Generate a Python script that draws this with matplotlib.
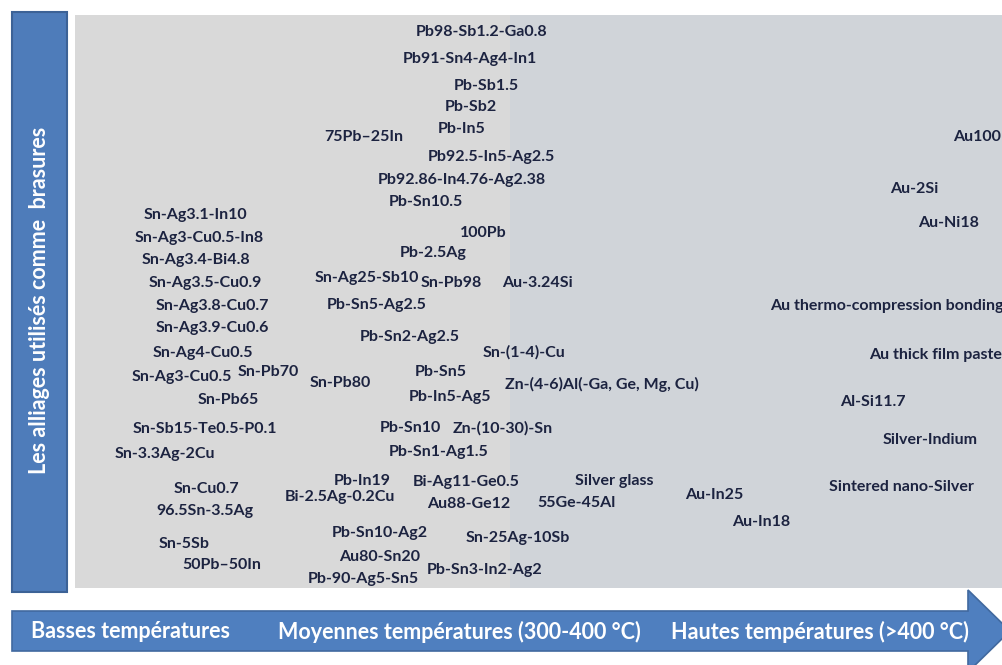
import matplotlib.pyplot as plt
from matplotlib.patches import Rectangle, Polygon

# alliages de brasure, placés selon leur domaine de température
labels = [
    "Pb98-Sb1.2-Ga0.8", "Pb91-Sn4-Ag4-In1", "Pb-Sb1.5", "Pb-Sb2", "Pb-In5",
    "75Pb\u201325In", "Pb92.5-In5-Ag2.5", "Pb92.86-In4.76-Ag2.38", "Pb-Sn10.5",
    "Sn-Ag3.1-In10", "Sn-Ag3-Cu0.5-In8", "Sn-Ag3.4-Bi4.8", "100Pb", "Pb-2.5Ag",
    "Sn-Ag3.5-Cu0.9", "Sn-Ag25-Sb10", "Sn-Pb98", "Au-3.24Si", "Pb-Sn5-Ag2.5",
    "Sn-Ag3.8-Cu0.7", "Sn-Ag3.9-Cu0.6", "Pb-Sn2-Ag2.5", "Sn-(1-4)-Cu",
    "Sn-Ag4-Cu0.5", "Sn-Ag3-Cu0.5", "Sn-Pb70", "Sn-Pb80", "Pb-Sn5",
    "Zn-(4-6)Al(-Ga, Ge, Mg, Cu)", "Sn-Pb65", "Pb-In5-Ag5", "Sn-Sb15-Te0.5-P0.1",
    "Pb-Sn10", "Zn-(10-30)-Sn", "Sn-3.3Ag-2Cu", "Pb-Sn1-Ag1.5", "Pb-In19",
    "Bi-Ag11-Ge0.5", "Bi-2.5Ag-0.2Cu", "Sn-Cu0.7", "96.5Sn-3.5Ag", "Au88-Ge12",
    "Pb-Sn10-Ag2", "Sn-5Sb", "Sn-25Ag-10Sb", "Au80-Sn20", "50Pb\u201350In",
    "Pb-Sn3-In2-Ag2", "Pb-90-Ag5-Sn5", "Silver glass", "55Ge-45Al", "Au-In25",
    "Au-In18", "Au100", "Au-2Si", "Au-Ni18", "Au thermo-compression bonding",
    "Au thick film paste", "Al-Si11.7", "Silver-Indium", "Sintered nano-Silver",
]
label_x = [
    482, 470, 486, 471, 462, 364, 491, 462, 426,
    195, 199, 196, 483, 433,
    205, 367, 451, 537, 377,
    212, 212, 410, 524,
    203, 182, 268, 340, 441,
    602, 228, 450, 205,
    410, 503, 165, 439, 362,
    466, 340, 206, 205, 469,
    380, 184, 518, 380, 222,
    485, 363, 614, 576, 714,
    761, 977, 914, 949, 887,
    936, 873, 930, 901,
]
label_y = [
    32, 59, 86, 107, 129, 137, 157, 180, 202,
    215, 238, 260, 233, 253,
    283, 278, 283, 283, 305,
    306, 328, 337, 352,
    353, 377, 372, 383, 372,
    384, 400, 397, 429,
    428, 428, 454, 452, 481,
    482, 497, 489, 511, 504,
    533, 544, 538, 557, 565,
    570, 579, 481, 503, 495,
    522, 137, 189, 223, 306,
    355, 402, 440, 487,
]

zones = ["Basses températures", "Moyennes températures (300-400 °C)",
         "Hautes températures (>400 °C)"]
zone_x = [131, 459, 820]
side_title = "Les alliages utilisés comme  brasures"

W, H = 1002, 665
font = ["Lato", "DejaVu Sans"]

fig = plt.figure(figsize=(W / 100, H / 100), dpi=100)
ax = fig.add_axes([0, 0, 1, 1])
ax.set_xlim(0, W)
ax.set_ylim(H, 0)
ax.axis("off")

# fonds gris
ax.add_patch(Rectangle((75, 15), 435, 573, facecolor="#d9d9d9", edgecolor="none"))
ax.add_patch(Rectangle((510, 15), W - 510, 573, facecolor="#d0d4d9", edgecolor="none"))

# bandeau vertical
ax.add_patch(Rectangle((12, 12), 55, 580, facecolor="#4e7cba", edgecolor="#3c6296", lw=1.5))
ax.text(40, 300, side_title, rotation=90, ha="center", va="center", color="white",
        fontsize=15.5, fontweight="bold", family=font)

# flèche des températures
arrow = Polygon([(12, 611), (968, 611), (968, 590), (1010, 631), (968, 672),
                 (968, 651), (12, 651)], closed=True,
                facecolor="#4f7fbf", edgecolor="#41699f", lw=1.2)
ax.add_patch(arrow)
for txt, x in zip(zones, zone_x):
    ax.text(x, 632, txt, ha="center", va="center", color="white",
            fontsize=15.5, fontweight="bold", family=font)

for txt, x, y in zip(labels, label_x, label_y):
    ax.text(x, y, txt, ha="center", va="center", color="#1c2340",
            fontsize=11.5, fontweight="bold", family=font, clip_on=True)

fig.savefig("out.png", dpi=100)
